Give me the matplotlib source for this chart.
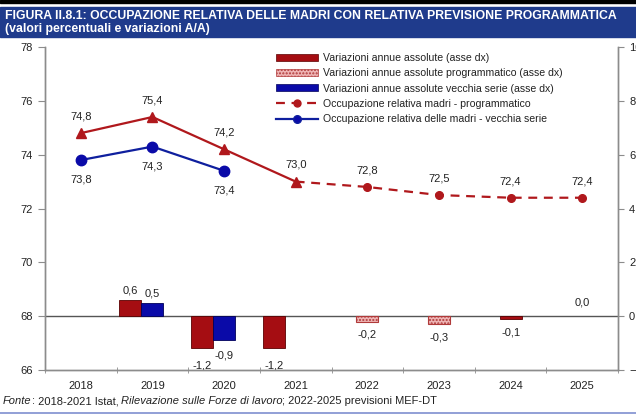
import numpy as np
import matplotlib
matplotlib.use("Agg")
import matplotlib.pyplot as plt
from matplotlib.patches import Rectangle, Patch
from matplotlib.lines import Line2D

plt.rcParams['font.family'] = ['Liberation Sans', 'DejaVu Sans']
plt.rcParams['hatch.color'] = '#d06a6a'

# -----------------------------
# Data
# -----------------------------
years = ['2018', '2019', '2020', '2021', '2022', '2023', '2024', '2025']

# occupazione relativa madri (asse sx)
occ_prog = [74.8, 75.4, 74.2, 73.0, 72.8, 72.5, 72.4, 72.4]
occ_old = [73.8, 74.3, 73.4]

# variazioni annue assolute (asse dx)
var_abs = [np.nan, 0.6, -1.2, -1.2, np.nan, np.nan, np.nan, np.nan]
var_prog = [np.nan, np.nan, np.nan, np.nan, -0.2, -0.3, -0.1, 0.0]
var_old = [np.nan, 0.5, -0.9, np.nan, np.nan, np.nan, np.nan, np.nan]

RED = '#a50d12'
RED_LINE = '#b0181c'
BLUE = '#0a0aa8'
BLUE_LINE = '#0f1f9e'
PINK = '#eeb4b4'
GREY = '#8c8c8c'
NAVY = '#1f3b8c'


def fmt(v):
    return ('%.1f' % v).replace('.', ',')


fig = plt.figure(figsize=(6.36, 4.17), dpi=100)
ax = fig.add_axes([45 / 636, 47 / 417, 573 / 636, 323 / 417])
ax2 = ax.twinx()

x = np.arange(len(years))
bw = 0.307

# -----------------------------
# Bars (right axis)
# -----------------------------
ax2.axhline(0, color='#555555', lw=1.0, zorder=1)
for i, v in enumerate(var_abs):
    if np.isnan(v):
        continue
    ax2.bar(x[i] - bw, v, bw, color=RED, edgecolor='#5a0000', lw=0.6, zorder=2)
for i, v in enumerate(var_old):
    if np.isnan(v):
        continue
    ax2.bar(x[i], v, bw, color=BLUE, edgecolor='#00005a', lw=0.6, zorder=2)
for i, v in enumerate(var_prog):
    if np.isnan(v) or v == 0:
        continue
    if years[i] == '2024':
        ax2.bar(x[i], v, bw, color=RED, edgecolor='#5a0000', lw=0.6, zorder=2)
    else:
        ax2.bar(x[i], v, bw, color=PINK, edgecolor='#b03a3a', lw=0.8,
                hatch='.....', zorder=2)

# bar labels
lab_kw = dict(fontsize=8, color='#222222', ha='center', textcoords='offset points')
for i, v in enumerate(var_abs):
    if np.isnan(v):
        continue
    if v >= 0:
        ax2.annotate(fmt(v), (x[i] - bw, v), xytext=(0, 3), va='bottom', **lab_kw)
    else:
        ax2.annotate(fmt(v), (x[i] - bw, v), xytext=(0, -9), va='top', **lab_kw)
for i, v in enumerate(var_old):
    if np.isnan(v):
        continue
    if v >= 0:
        ax2.annotate(fmt(v), (x[i], v), xytext=(0, 3), va='bottom', **lab_kw)
    else:
        ax2.annotate(fmt(v), (x[i], v), xytext=(0, -7), va='top', **lab_kw)
for i, v in enumerate(var_prog):
    if np.isnan(v):
        continue
    if v >= 0:
        ax2.annotate(fmt(v), (x[i], v), xytext=(0, 6), va='bottom', **lab_kw)
    else:
        ax2.annotate(fmt(v), (x[i], v), xytext=(0, -6), va='top', **lab_kw)

ax2.set_ylim(-2, 10)
ax2.set_yticks(np.arange(-2, 11, 2))
ax2.tick_params(axis='y', direction='out', length=4, color=GREY, labelsize=8,
                labelcolor='#222222', pad=4)

# -----------------------------
# Lines (left axis)
# -----------------------------
ax.set_zorder(ax2.get_zorder() + 1)
ax.patch.set_visible(False)

ax.plot(x[:4], occ_prog[:4], color=RED_LINE, lw=1.6, marker='^', ms=6.5,
        mfc=RED_LINE, mec=RED_LINE, zorder=3)
ax.plot(x[3:], occ_prog[3:], color=RED_LINE, lw=1.6, dashes=(4, 3),
        marker='o', ms=5.5, markevery=[1, 2, 3, 4], mfc=RED_LINE,
        mec=RED_LINE, zorder=3)
ax.plot(x[:3], occ_old, color=BLUE_LINE, lw=1.6, marker='o', ms=7.5,
        mfc=BLUE, mec=BLUE, zorder=4)

for i, v in enumerate(occ_prog):
    ax.annotate(fmt(v), (x[i], v), xytext=(0, 12), textcoords='offset points',
                ha='center', va='center', fontsize=8, color='#222222')
for i, v in enumerate(occ_old):
    ax.annotate(fmt(v), (x[i], v), xytext=(0, -14), textcoords='offset points',
                ha='center', va='center', fontsize=8, color='#222222')

ax.set_ylim(66, 78)
ax.set_yticks(np.arange(66, 79, 2))
ax.set_xlim(-0.5, 7.5)
ax.set_xticks(x)
ax.set_xticklabels(years)
ax.set_xticks(np.arange(-0.5, 8, 1), minor=True)
ax.tick_params(axis='x', which='major', length=0, pad=8, labelsize=8,
               labelcolor='#222222')
ax.tick_params(axis='x', which='minor', direction='inout', length=5, color=GREY)
ax.tick_params(axis='y', direction='out', length=5, color=GREY, labelsize=8,
               labelcolor='#222222', pad=4)

for a in (ax, ax2):
    a.spines['top'].set_visible(False)
    for s in ('left', 'right', 'bottom'):
        a.spines[s].set_color(GREY)
        a.spines[s].set_linewidth(1.0)

# -----------------------------
# Legend
# -----------------------------
handles = [
    Patch(facecolor=RED, edgecolor='#5a0000', lw=0.5),
    Patch(facecolor=PINK, edgecolor='#b03a3a', hatch='.....', lw=0.5),
    Patch(facecolor=BLUE, edgecolor='#00005a', lw=0.5),
    Line2D([0, 0.5, 1], [0, 0, 0], color=RED_LINE, lw=1.6, dashes=(4, 3),
           marker='o', ms=5, markevery=[1]),
    Line2D([0, 0.5, 1], [0, 0, 0], color=BLUE_LINE, lw=1.6, marker='o',
           ms=5.5, mfc=BLUE, markevery=[1]),
]
labels = [
    'Variazioni annue assolute (asse dx)',
    'Variazioni annue assolute programmatico (asse dx)',
    'Variazioni annue assolute vecchia serie (asse dx)',
    'Occupazione relativa madri - programmatico',
    'Occupazione relativa delle madri - vecchia serie',
]
leg = fig.legend(handles, labels, loc='upper left',
                 bbox_to_anchor=(276 / 636, 1 - 53 / 417), frameon=False,
                 fontsize=7.6, handlelength=4.0, handleheight=0.6,
                 handletextpad=0.45, labelspacing=0.5, borderpad=0,
                 borderaxespad=0)
for t in leg.get_texts():
    t.set_color('#222222')

# -----------------------------
# Title banner, source note
# -----------------------------
fig.patches.append(Rectangle((0, 1 - 3 / 417), 1, 3 / 417, transform=fig.transFigure,
                             color='black', zorder=0))
fig.patches.append(Rectangle((0, 1 - 37 / 417), 1, 30 / 417, transform=fig.transFigure,
                             color=NAVY, zorder=0))
fig.text(5 / 636, 1 - 16 / 417,
         'FIGURA II.8.1: OCCUPAZIONE RELATIVA DELLE MADRI CON RELATIVA PREVISIONE PROGRAMMATICA',
         color='white', fontsize=8.8, fontweight='heavy', va='center', ha='left')
fig.text(5 / 636, 1 - 29 / 417, '(valori percentuali e variazioni A/A)',
         color='white', fontsize=8.8, fontweight='heavy', va='center', ha='left')

# source note: mix of upright and italic pieces
pieces = [('Fonte', 'italic'), (':', 'normal'), (' 2018-2021 Istat,', 'normal'),
          (' ', 'normal'), ('Rilevazione sulle Forze di lavoro', 'italic'),
          ('; 2022-2025 previsioni MEF-DT', 'normal')]
renderer = fig.canvas.get_renderer()
xpos = 3
for txt, style in pieces:
    t = fig.text(xpos / 636, 1 - 401 / 417, txt, fontsize=8, style=style,
                 color='#222222', va='center', ha='left')
    if txt == ' ':
        xpos += 2.5
    else:
        xpos += t.get_window_extent(renderer).width
fig.add_artist(Line2D([0, 1], [1 - 413 / 417, 1 - 413 / 417],
                      transform=fig.transFigure, color='#7f8fd0', lw=1.2))

fig.savefig('out.png', dpi=100)
